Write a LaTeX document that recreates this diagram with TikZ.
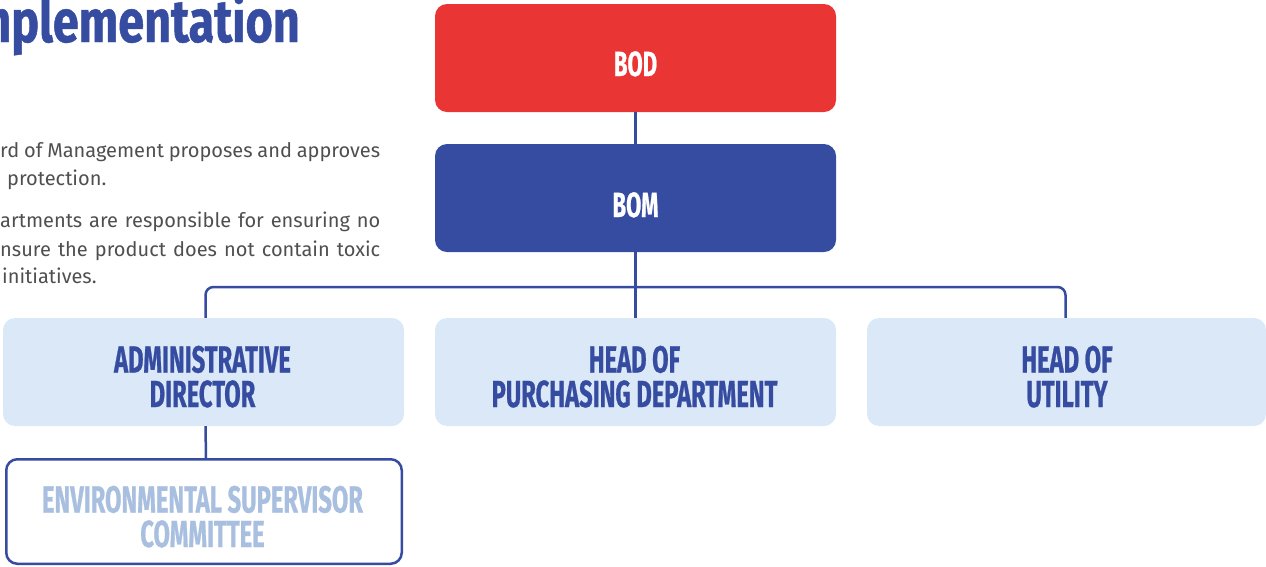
\documentclass[tikz,border=0pt]{standalone}
\usepackage{fontspec}
\setmainfont{Fira Sans}
\newfontfamily\headfont[FakeStretch=0.63,FakeBold=0.6]{Fira Sans}
\newfontfamily\titlefont[FakeStretch=0.78,FakeBold=0.8]{Fira Sans}
\newfontfamily\bodyfont{Fira Sans}
\definecolor{bodred}{HTML}{EA3535}
\definecolor{mainblue}{HTML}{354CA1}
\definecolor{lightfill}{HTML}{DAE8F8}
\definecolor{lighttext}{HTML}{A8BFE0}
\definecolor{bodygray}{HTML}{4F4F4F}
\begin{document}
\begin{tikzpicture}[x=1pt,y=-1pt,
  box/.style={rectangle, rounded corners=12pt, minimum width=401pt, minimum height=108pt, inner sep=0pt, draw=none},
  conn/.style={draw=mainblue, line width=2.5pt},
  hd/.style={inner sep=0pt, align=center, font=\headfont\bfseries\fontsize{37.7}{34.5}\selectfont},
  bodyline/.style={inner sep=0pt, anchor=base west, text=bodygray, font=\bodyfont\fontsize{20}{28}\selectfont}
]
\useasboundingbox (0,0) rectangle (1266,566);
\clip (0,0) rectangle (1266,566);

% title and body text (clipped at left)
\node[anchor=base east, inner sep=0pt, text=mainblue, font=\titlefont\bfseries\fontsize{60}{62}\selectfont] (title) at (300,42) {Implementation};
\node[bodyline] (l1) at (0,157) {\makebox[380pt][s]{rd of Management proposes and approves}};
\node[bodyline] (l2) at (7,185) {protection.};
\node[bodyline] (l3) at (0,227) {\makebox[380pt][s]{artments are responsible for ensuring no}};
\node[bodyline] (l4) at (0,256) {\makebox[380pt][s]{nsure the product does not contain toxic}};
\node[bodyline] (l5) at (2,283) {initiatives.};

% boxes
\node[box, fill=bodred] (bod) at (635.5,58) {};
\node[box, fill=mainblue] (bom) at (635.5,198) {};
\node[box, fill=lightfill] (adm) at (203.5,372) {};
\node[box, fill=lightfill] (pur) at (635.5,372) {};
\node[box, fill=lightfill, minimum width=399pt] (uti) at (1066.5,372) {};
\node[box, fill=white, draw=mainblue, line width=2.5pt, minimum width=395.5pt, minimum height=104.5pt, rounded corners=11pt] (env) at (204,511.5) {};

% connectors
\coordinate (bus) at (635.5,287);
\draw[conn] (bod.south) -- (bom.north);
\draw[conn] (bom.south) -- (pur.north);
\draw[conn, rounded corners=8pt] ([xshift=2pt]adm.north) |- (bus) -| ([xshift=-1pt]uti.north);
\draw[conn] ([xshift=2pt]adm.south) -- ([xshift=2pt]env.north);

% labels
\node[hd, text=white, anchor=base, font=\headfont\bfseries\fontsize{35}{34}\selectfont] (bodt) at (635.5,76) {BOD};
\node[hd, text=white, anchor=base, font=\headfont\bfseries\fontsize{35}{34}\selectfont] (bomt) at (635.5,217) {BOM};
\node[hd, text=mainblue, anchor=base] (admt) at (202.5,407) {ADMINISTRATIVE\\DIRECTOR};
\node[hd, text=mainblue, anchor=base] (purt) at (634.5,407) {HEAD OF\\PURCHASING DEPARTMENT};
\node[hd, text=mainblue, anchor=base] (utit) at (1067,407) {HEAD OF\\UTILITY};
\node[hd, text=lighttext, anchor=base] (envt) at (202.5,547) {ENVIRONMENTAL SUPERVISOR\\COMMITTEE};
\end{tikzpicture}
\end{document}
